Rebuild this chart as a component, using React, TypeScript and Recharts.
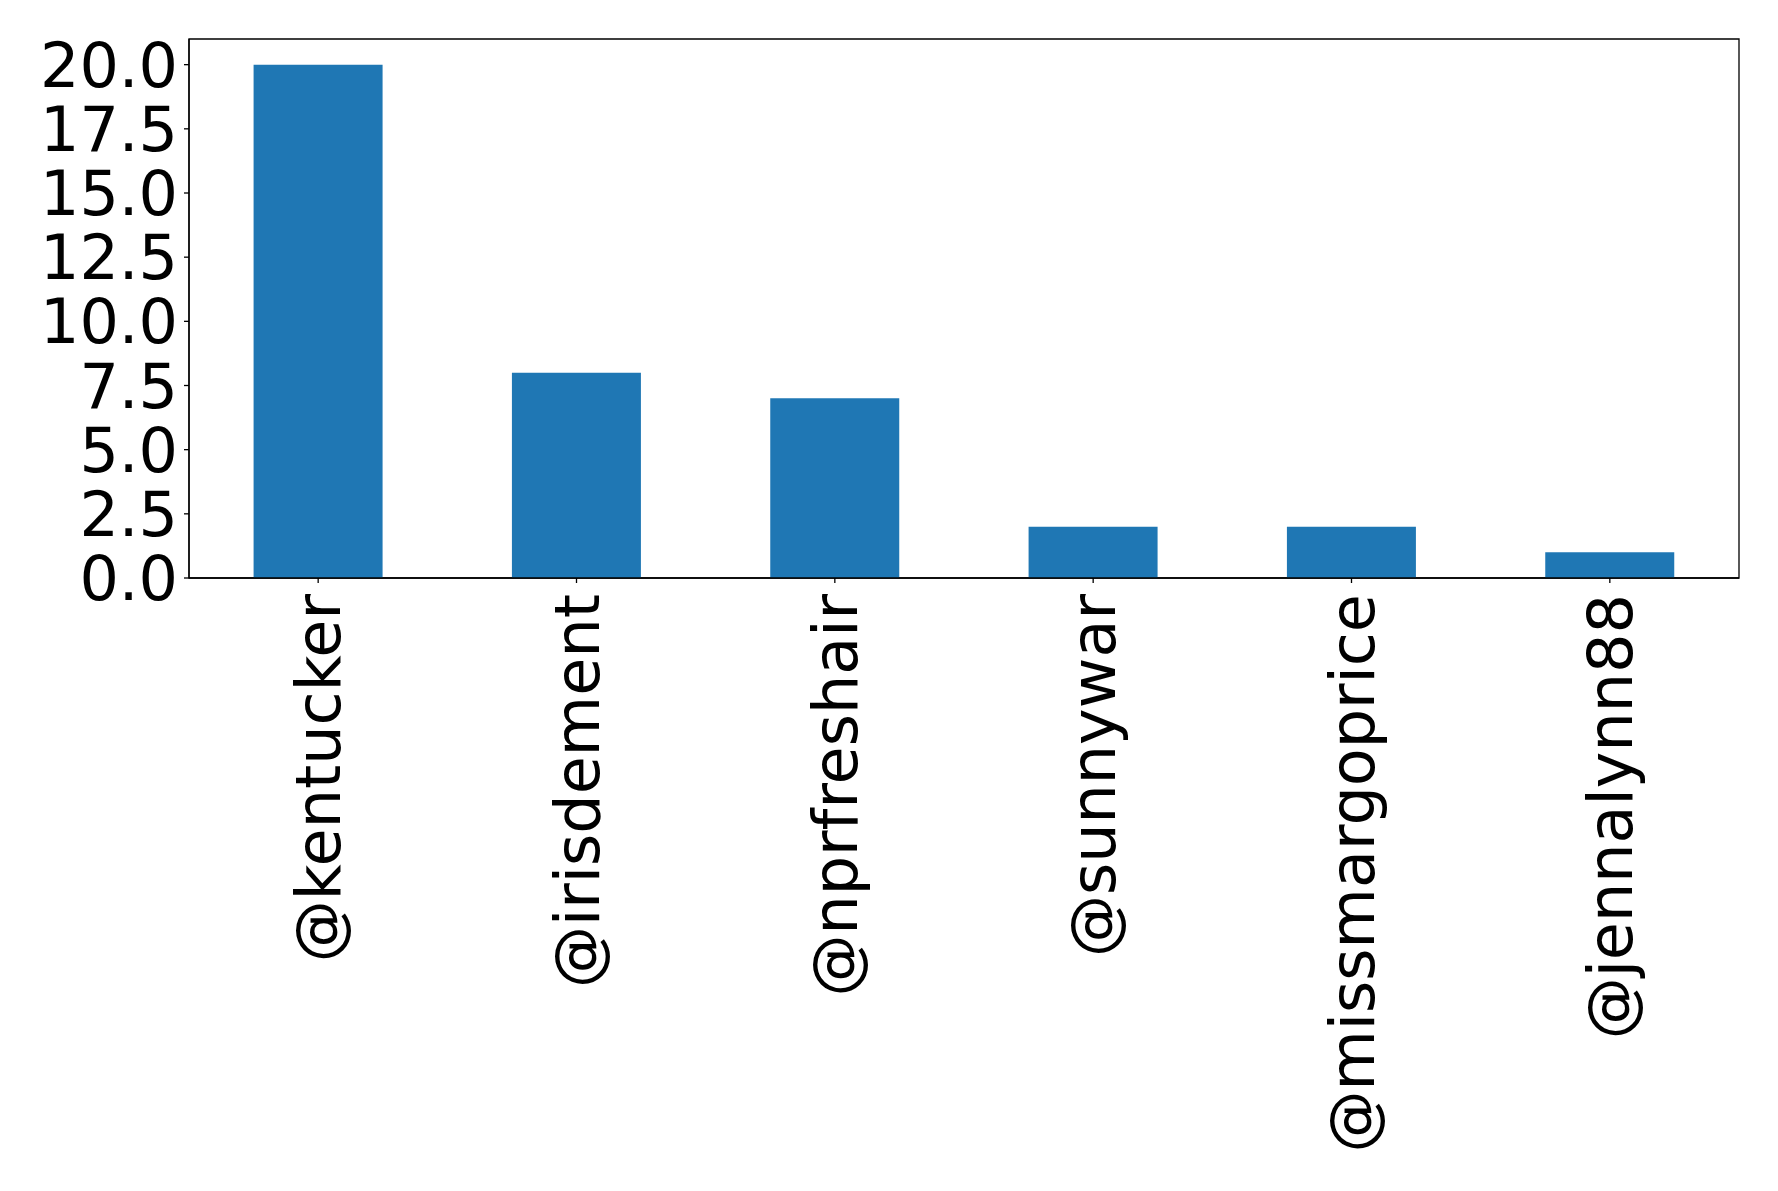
import React from "react";
import { BarChart, Bar, XAxis, YAxis, ReferenceArea } from "recharts";

// mention counts per account
const handles = ["@kentucker", "@irisdement", "@nprfreshair", "@sunnywar", "@missmargoprice", "@jennalynn88"];
const counts = [20, 8, 7, 2, 2, 1];
const yTicks = [0, 2.5, 5, 7.5, 10, 12.5, 15, 17.5, 20];
const yMax = 21;

const data = handles.map((name, i) => ({ name, count: counts[i] }));

const FONT = "'DejaVu Sans', sans-serif";

// rotated category label, reading bottom-to-top, ending just under the tick
function RotatedTick(props: any) {
  const { x, y, payload } = props;
  return (
    <text
      transform={`translate(${x},${y}) rotate(-90)`}
      textAnchor="end"
      dy="0.36em"
      fontSize={62}
      fontFamily={FONT}
      fill="#000"
    >
      {payload.value}
    </text>
  );
}

export default function App() {
  return (
    <div style={{ position: "absolute", left: 0, top: 0, background: "#fff" }}>
      <BarChart
        width={1778}
        height={1191}
        data={data}
        margin={{ top: 39, right: 39, left: 9, bottom: 13 }}
        barCategoryGap="25%"
      >
        <XAxis
          dataKey="name"
          type="category"
          height={600}
          interval={0}
          tickSize={5}
          tickMargin={11}
          axisLine={{ stroke: "#000", strokeWidth: 1.3 }}
          tickLine={{ stroke: "#000", strokeWidth: 1.3 }}
          tick={<RotatedTick />}
        />
        <YAxis
          type="number"
          domain={[0, yMax]}
          ticks={yTicks}
          interval={0}
          width={180}
          tickSize={5}
          tickMargin={6}
          axisLine={{ stroke: "#000", strokeWidth: 1.3 }}
          tickLine={{ stroke: "#000", strokeWidth: 1.3 }}
          tick={{ fontSize: 62, fontFamily: FONT, fill: "#000" }}
          tickFormatter={(v: number) => v.toFixed(1)}
          allowDataOverflow
        />
        <Bar dataKey="count" fill="#1f77b4" isAnimationActive={false} />
        {/* frame around the whole plot area */}
        <ReferenceArea
          y1={0}
          y2={yMax}
          fill="#fff"
          fillOpacity={0}
          stroke="#000"
          strokeWidth={1.3}
          ifOverflow="visible"
        />
      </BarChart>
    </div>
  );
}
